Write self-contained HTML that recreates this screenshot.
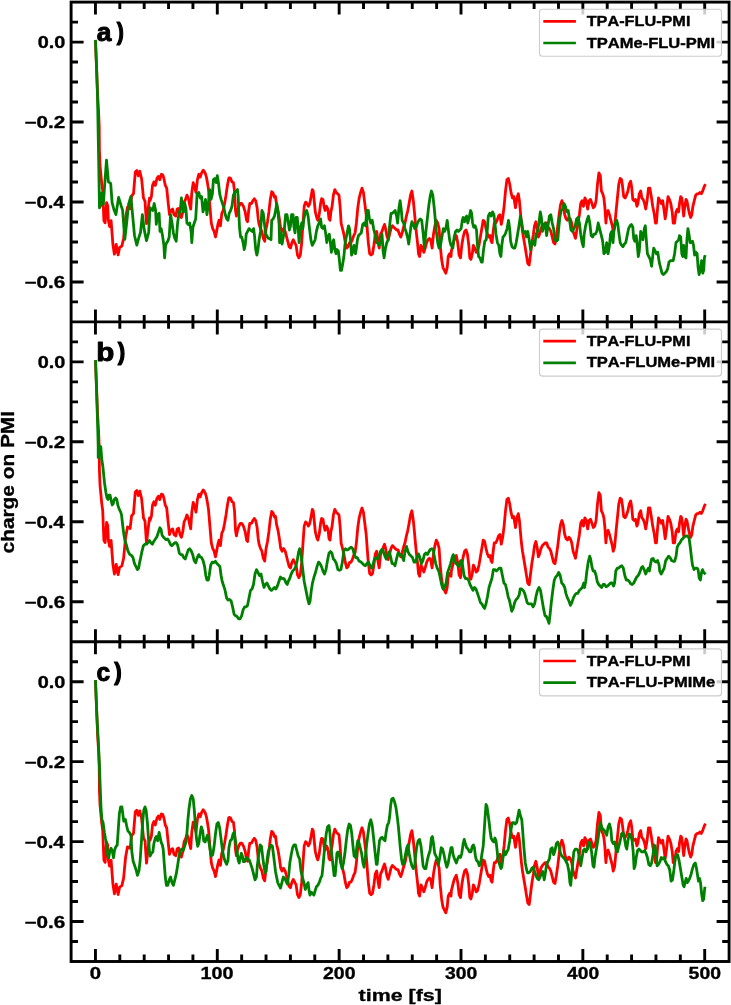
<!DOCTYPE html>
<html><head><meta charset="utf-8"><style>
html,body{margin:0;padding:0;background:#fff;}
svg{display:block;}
text{font-family:"Liberation Sans",sans-serif;font-weight:bold;fill:#000;stroke:#000;stroke-width:0.35px;stroke-linejoin:round;font-kerning:none;-webkit-font-smoothing:antialiased;}
svg{will-change:transform;}
.tl{font-size:16.5px;}
.lg{font-size:14px;}
.pl{font-size:25px;}
.al{font-size:16.5px;}
</style></head><body>
<svg width="731" height="1005" viewBox="0 0 731 1005">
<rect width="731" height="1005" fill="#fff"/>
<clipPath id="c0"><rect x="71.1" y="2.1" width="658.0" height="319.8"/></clipPath>
<g clip-path="url(#c0)">
<polyline points="95.5,41.9 96.6,69.0 97.6,95.0 98.6,112.0 99.2,127.0 99.4,150.0 100.0,165.0 101.7,183.3 102.7,190.7 103.9,220.6 105.1,222.8 106.6,202.7 107.7,205.7 108.4,220.6 109.6,226.6 111.1,220.6 112.9,244.5 114.4,254.2 116.2,244.5 118.1,254.9 119.6,247.5 121.9,246.0 123.6,238.5 125.6,217.6 127.5,207.2 130.1,208.7 131.6,196.0 133.5,193.7 135.3,172.1 136.8,170.6 138.3,175.8 139.8,171.3 141.6,178.8 143.5,198.2 145.0,201.2 146.5,223.6 148.0,210.1 149.5,198.2 150.0,200.7 151.4,196.6 152.5,185.4 153.9,181.9 155.3,185.4 157.0,178.4 158.4,176.4 159.8,179.8 161.4,174.3 162.8,175.0 163.9,178.4 165.3,185.4 166.7,188.2 167.4,195.2 168.4,204.9 169.5,214.7 170.9,210.5 172.6,209.1 174.0,214.7 175.8,216.1 177.2,209.1 178.6,208.4 180.0,214.7 181.4,217.5 182.8,211.9 184.1,202.1 185.5,199.4 186.9,195.2 188.3,198.0 189.7,204.9 190.7,209.1 191.8,192.4 193.2,182.6 194.6,186.8 196.0,192.4 197.4,179.8 198.8,174.3 200.2,177.1 201.6,172.9 203.2,170.1 205.1,172.9 206.4,177.1 207.4,182.6 208.5,189.6 209.9,206.3 211.3,223.0 212.7,228.6 214.1,231.4 215.5,237.0 216.6,231.4 217.9,224.4 219.0,220.3 220.4,225.8 221.8,213.3 223.2,210.5 224.6,203.5 226.0,195.2 227.4,185.4 228.7,178.4 229.2,177.8 230.6,178.4 232.0,181.9 233.4,182.6 234.5,191.0 235.5,210.5 236.4,216.1 237.5,210.5 238.9,206.3 240.3,203.5 241.7,203.5 243.4,206.3 245.2,211.9 246.6,220.3 247.6,221.7 248.7,210.5 249.8,203.5 251.5,203.5 252.9,200.7 254.3,198.7 255.7,200.7 257.1,207.7 258.2,218.9 259.1,224.4 260.5,228.6 261.9,231.4 263.3,238.4 264.7,241.2 266.1,228.6 267.5,221.7 268.9,211.9 270.3,199.4 271.7,191.7 273.1,193.1 274.5,197.3 275.5,196.6 276.6,204.9 278.0,210.5 279.4,218.9 280.7,228.6 282.1,231.4 283.5,228.6 285.2,231.4 286.3,235.6 287.7,241.2 289.1,246.7 290.5,248.1 291.9,242.6 293.3,239.8 294.7,242.6 296.1,245.3 297.5,255.1 298.9,257.9 300.3,255.1 301.7,242.6 303.0,223.0 304.2,206.3 305.6,202.1 307.0,203.5 308.4,206.3 309.8,203.5 311.1,196.6 312.3,189.6 313.2,191.0 314.2,200.7 315.3,211.9 316.7,217.5 317.8,220.3 319.2,214.7 320.6,203.5 321.6,198.7 323.0,199.4 324.0,206.3 325.1,210.5 326.5,206.3 327.9,209.1 329.0,218.9 330.0,220.3 330.9,211.9 332.1,206.3 333.4,195.2 334.8,189.6 336.2,192.4 337.6,193.8 339.0,195.2 340.1,206.3 341.1,223.0 342.5,228.6 343.9,234.2 345.3,242.6 346.7,248.1 348.1,246.7 349.5,242.6 350.9,242.6 352.3,239.8 353.7,235.6 355.1,232.8 356.4,223.0 357.8,207.7 359.2,198.0 360.6,192.4 362.0,188.2 363.4,192.4 364.8,203.5 366.2,214.7 367.2,228.6 368.3,242.6 369.7,253.7 371.1,255.1 372.5,253.7 373.9,245.3 375.3,234.2 376.7,231.4 377.1,234.2 378.1,242.6 379.2,248.1 380.6,234.2 382.0,231.4 383.4,227.2 384.5,224.4 385.6,228.6 386.8,235.6 388.2,239.8 389.6,234.2 391.0,228.6 392.4,225.8 393.8,227.2 395.2,228.6 396.6,230.0 398.0,230.0 399.4,234.2 400.8,237.0 402.2,232.8 403.6,227.2 405.0,223.0 406.4,216.1 407.8,210.5 409.1,203.5 410.5,195.2 411.9,191.0 413.3,200.7 414.4,211.9 415.4,223.0 416.5,234.2 417.5,242.6 418.5,253.7 419.6,256.5 421.0,245.3 422.4,248.1 423.8,252.3 425.2,248.1 426.6,242.6 428.0,239.8 429.4,238.4 430.7,239.8 432.1,248.1 433.5,234.2 434.9,225.8 436.3,220.3 437.7,223.0 439.1,228.6 440.2,245.3 441.6,259.3 443.0,267.6 444.4,270.4 445.8,273.2 447.2,267.6 448.2,256.5 449.6,253.7 451.0,256.5 451.4,250.9 452.8,245.3 454.2,239.8 456.3,235.6 457.7,242.6 459.1,255.1 460.5,257.9 461.8,245.3 463.2,237.0 464.6,231.4 466.0,230.0 467.4,234.2 468.8,245.3 469.8,257.9 470.9,259.3 472.3,253.7 473.4,245.3 474.8,248.1 476.2,252.3 477.6,250.9 479.0,245.3 480.4,237.0 481.8,228.6 483.2,220.3 484.6,221.7 486.0,228.6 487.4,234.2 488.7,237.0 490.1,235.6 491.1,241.2 492.1,242.6 493.2,231.4 494.3,223.0 495.7,223.0 497.1,220.3 498.5,216.1 499.9,214.7 501.3,224.4 502.7,217.5 504.1,206.3 505.5,191.0 506.9,179.8 508.3,178.4 509.7,184.0 511.0,192.4 512.4,198.0 513.8,196.6 514.8,203.5 515.5,207.7 516.9,198.0 518.3,193.8 519.4,200.7 520.4,211.9 521.4,223.0 522.5,231.4 523.9,239.8 525.3,248.1 526.4,255.1 527.8,263.5 529.2,264.9 530.6,253.7 532.0,242.6 533.4,234.2 534.5,225.8 535.9,221.7 537.3,228.6 538.4,237.0 539.6,234.2 541.0,228.6 542.4,225.8 543.8,224.4 545.2,223.0 546.6,223.0 548.0,227.2 549.4,228.6 550.8,231.4 552.2,237.0 553.6,242.6 555.0,244.0 556.4,235.6 557.8,225.8 559.1,214.7 560.5,204.9 561.9,200.7 563.3,204.9 564.7,214.7 566.1,218.9 567.5,220.3 568.9,217.5 570.3,218.9 571.7,223.0 573.1,231.4 574.5,235.6 575.5,238.4 576.6,231.4 578.0,223.0 579.4,214.7 580.7,203.5 582.1,200.7 583.5,206.3 584.9,198.0 586.3,200.7 587.7,209.1 589.1,200.7 590.5,199.4 591.9,203.5 593.3,207.7 594.7,206.3 596.1,200.7 597.5,184.0 598.9,172.9 600.3,175.7 601.4,191.0 602.8,193.8 603.9,198.0 604.9,207.7 605.9,223.0 607.0,211.9 608.1,210.5 609.5,214.7 610.9,220.3 612.3,225.8 613.2,231.4 614.6,227.2 616.0,211.9 617.4,198.0 618.8,184.0 620.2,178.4 621.6,179.8 622.6,186.8 623.7,196.6 625.1,198.0 626.5,195.2 627.9,191.0 629.3,184.0 630.7,181.2 631.8,188.2 632.8,199.4 634.1,200.7 635.5,199.4 636.9,206.3 637.9,203.5 639.3,193.8 640.7,191.0 641.8,198.0 643.2,199.4 644.6,203.5 645.7,209.1 647.1,200.7 648.5,188.2 649.9,188.2 651.3,196.6 652.7,206.3 654.1,213.3 655.5,223.0 656.4,223.0 657.4,210.5 658.5,198.0 659.9,200.7 661.3,203.5 662.7,200.7 664.1,210.5 665.2,218.9 666.6,209.1 668.0,196.6 669.4,199.4 670.8,203.5 672.2,211.9 673.2,223.0 674.6,223.0 676.0,211.9 677.4,209.1 678.6,211.9 679.5,203.5 680.7,196.6 681.8,198.0 682.8,207.7 683.7,216.1 684.8,206.3 686.0,199.4 686.9,200.7 687.9,206.3 689.3,213.3 690.7,217.5 691.8,214.7 692.9,206.3 694.3,200.7 695.7,195.2 697.1,193.8 698.5,193.8 699.9,192.4 701.3,193.8 702.7,191.0 704.1,186.8 704.8,185.4" fill="none" stroke="#ff0000" stroke-width="2.8" stroke-linejoin="round" stroke-linecap="square"/>
<polyline points="95.5,41.3 96.6,69.0 97.5,95.0 98.3,140.0 99.5,207.9 100.7,205.7 101.9,193.0 103.3,204.2 106.5,160.1 108.4,181.8 110.7,183.3 112.1,202.7 114.1,210.1 115.9,214.6 118.6,197.5 121.1,205.7 122.6,210.1 124.8,239.3 126.6,223.6 128.6,204.2 130.8,196.7 132.3,211.6 134.5,235.5 136.8,245.2 139.0,237.0 140.5,232.5 142.4,214.6 144.2,229.6 146.5,240.7 148.7,232.5 150.0,207.7 151.4,209.1 152.8,210.5 154.2,203.5 155.6,210.5 156.3,224.4 157.7,214.7 159.1,213.3 160.0,231.4 161.1,228.6 162.5,235.6 163.9,245.3 164.6,257.9 165.6,245.3 166.7,242.6 167.8,241.2 169.2,237.0 170.6,214.7 172.0,223.0 173.4,232.8 174.8,238.4 176.2,241.2 177.6,223.0 179.0,213.3 180.4,209.1 181.4,198.0 182.3,206.3 183.4,211.9 184.8,203.5 186.0,209.1 186.9,223.0 188.3,224.4 189.7,223.0 191.1,231.4 191.8,242.6 192.9,227.2 194.3,223.0 195.7,218.9 197.1,193.8 198.8,192.4 200.2,198.0 201.6,196.6 203.0,211.9 204.4,206.3 205.5,199.4 206.9,214.7 208.3,204.9 209.7,189.6 211.0,199.4 212.4,193.8 213.4,179.8 214.8,178.4 216.2,182.6 217.3,175.7 218.6,184.0 219.7,193.8 221.1,199.4 222.5,203.5 223.9,207.7 225.3,214.7 226.7,218.9 228.0,220.3 229.2,213.3 230.6,210.5 232.0,206.3 233.4,195.2 234.8,192.4 236.1,191.0 237.5,189.6 238.2,196.6 238.9,214.7 239.6,228.6 240.6,237.0 241.7,237.0 243.1,242.6 244.2,249.5 245.2,245.3 246.2,234.2 247.6,231.4 249.0,228.6 250.4,230.0 252.2,231.4 253.6,228.6 254.5,235.6 255.7,249.5 256.8,255.1 257.8,250.9 259.1,239.8 260.5,231.4 261.9,210.5 263.3,213.3 264.7,225.8 265.7,234.2 266.8,235.6 268.2,238.4 269.6,238.4 271.0,239.8 271.7,220.3 273.1,218.9 274.5,216.1 275.9,209.1 276.8,203.5 278.0,211.9 279.1,224.4 279.6,242.6 280.7,232.8 282.1,244.0 283.3,237.0 284.2,231.4 285.6,214.7 287.0,214.7 288.4,223.0 289.4,230.0 290.5,225.8 291.6,214.7 293.0,214.7 294.0,227.2 295.0,232.8 296.1,217.5 297.2,217.5 298.2,228.6 299.1,242.6 300.3,228.6 301.7,223.0 302.8,228.6 303.9,218.9 305.3,211.9 306.7,210.5 308.1,216.1 309.5,228.6 310.9,239.8 312.3,245.3 313.7,242.6 315.1,239.8 316.4,231.4 317.8,225.8 319.2,223.0 320.6,218.9 321.6,227.2 323.0,228.6 324.4,225.8 325.8,234.2 326.8,242.6 327.9,237.0 329.3,234.2 330.4,242.6 331.4,252.3 332.8,242.6 333.7,239.8 334.8,249.5 336.0,253.7 336.9,249.5 338.3,250.9 339.3,259.3 340.4,270.4 341.5,270.4 342.5,264.9 343.9,256.5 344.9,245.3 346.0,238.4 347.4,231.4 348.5,225.8 349.5,228.6 350.5,239.8 351.6,255.1 352.7,252.3 354.1,245.3 355.5,253.7 356.4,248.1 357.4,239.8 358.5,235.6 359.9,234.2 361.3,232.8 362.7,224.4 364.1,223.0 365.5,225.8 366.9,210.5 368.3,210.5 369.4,218.9 370.8,223.0 372.2,220.3 373.6,228.6 375.0,234.2 376.4,242.6 377.8,242.6 379.2,245.3 380.6,242.6 382.0,234.2 383.1,250.9 384.1,257.9 385.5,248.1 386.8,242.6 388.2,239.8 389.6,225.8 391.0,213.3 392.4,213.3 393.8,211.9 395.2,210.5 396.6,216.1 397.6,223.0 399.0,207.7 400.1,200.7 401.2,209.1 402.2,220.3 403.6,223.0 405.0,228.6 406.4,232.8 407.8,238.4 408.7,244.0 409.8,235.6 411.0,225.8 411.9,221.7 413.3,224.4 414.7,228.6 416.1,227.2 417.5,223.0 418.9,220.3 420.3,218.9 421.7,220.3 423.1,232.8 424.5,248.1 425.9,231.4 427.3,218.9 428.7,206.3 430.1,196.6 431.4,191.0 432.8,195.2 434.2,207.7 435.2,218.9 436.3,231.4 437.7,242.6 439.1,248.1 440.5,245.3 441.9,237.0 443.3,228.6 444.7,231.4 446.1,227.2 447.2,220.3 448.2,228.6 449.6,239.8 451.0,245.3 451.4,245.3 452.8,248.1 454.2,237.0 455.6,231.4 457.0,230.0 458.4,231.4 459.8,230.0 461.1,228.6 462.3,220.3 463.2,217.5 464.6,221.7 465.6,217.5 466.7,216.1 467.8,223.0 469.2,217.5 470.6,210.5 471.6,213.3 472.6,223.0 473.7,227.2 475.1,225.8 476.5,230.0 477.6,246.7 478.6,256.5 480.0,257.9 481.4,262.1 482.3,262.1 483.4,250.9 484.8,241.2 486.2,239.8 487.4,228.6 488.3,216.1 489.7,213.3 491.1,216.1 492.5,211.9 493.9,214.7 494.9,223.0 496.0,234.2 497.4,242.6 498.8,245.3 499.9,253.7 500.9,256.5 501.8,245.3 503.0,237.0 504.4,235.6 505.7,232.8 507.1,228.6 508.5,220.3 509.7,228.6 510.6,241.2 512.0,246.7 513.4,248.1 514.8,248.1 516.2,242.6 517.6,234.2 519.0,225.8 520.4,216.1 521.8,223.0 522.8,230.0 523.9,232.8 525.3,231.4 526.4,237.0 527.8,231.4 529.2,239.8 530.6,249.5 532.0,242.6 533.4,241.2 534.8,245.3 536.1,234.2 537.5,231.4 538.9,223.0 540.3,211.9 541.4,217.5 542.4,231.4 543.8,225.8 545.2,223.0 546.6,235.6 548.0,225.8 549.4,216.1 550.8,214.7 552.2,223.0 553.6,228.6 555.0,239.8 556.4,241.2 557.8,239.8 558.7,228.6 559.8,217.5 561.2,210.5 562.6,209.1 564.0,203.5 565.4,206.3 566.8,211.9 568.2,210.5 569.6,220.3 571.0,230.0 572.4,231.4 573.8,228.6 575.2,225.8 576.6,218.9 578.0,217.5 579.4,223.0 580.7,234.2 582.1,242.6 583.3,246.7 584.2,234.2 585.6,225.8 587.0,220.3 588.4,216.1 589.8,223.0 591.2,235.6 592.6,237.0 594.0,234.2 595.4,234.2 596.8,231.4 598.2,223.0 599.6,228.6 601.0,234.2 602.4,239.8 602.8,242.6 603.9,253.7 605.3,252.3 606.7,242.6 608.1,253.7 609.5,245.3 610.5,234.2 611.8,231.4 613.0,242.6 613.9,231.4 615.3,223.0 616.7,220.3 617.8,224.4 619.2,235.6 620.2,242.6 621.6,245.3 623.0,246.7 624.4,244.0 625.8,242.6 627.2,235.6 628.6,228.6 630.0,225.8 631.4,224.4 632.8,227.2 633.7,238.4 634.8,241.2 636.2,235.6 637.4,246.7 638.3,256.5 639.3,250.9 640.7,231.4 641.8,234.2 642.9,239.8 644.3,228.6 645.3,225.8 646.3,239.8 647.4,253.7 648.8,256.5 650.2,259.3 651.6,266.3 652.7,256.5 653.7,248.1 655.1,250.9 656.4,253.7 657.8,252.3 659.2,262.1 660.6,267.6 662.0,273.2 663.4,274.6 664.8,273.2 666.2,271.8 667.6,269.0 669.0,262.1 670.4,260.7 671.8,260.7 673.2,260.7 674.6,253.7 676.0,242.6 677.4,241.2 678.6,239.8 679.5,235.6 680.7,237.0 681.8,253.7 682.8,256.5 683.7,245.3 684.8,256.5 686.0,257.9 686.9,239.8 687.9,228.6 689.0,234.2 690.1,242.6 691.1,242.6 692.5,241.2 693.5,245.3 694.6,255.1 696.0,252.3 697.1,253.7 698.1,267.6 699.1,274.6 700.2,270.4 701.6,260.7 702.7,273.2 703.7,270.4 704.4,257.9 704.8,256.5" fill="none" stroke="#008000" stroke-width="2.8" stroke-linejoin="round" stroke-linecap="square"/>
</g>
<clipPath id="c1"><rect x="71.1" y="321.9" width="658.0" height="319.8"/></clipPath>
<g clip-path="url(#c1)">
<polyline points="95.5,361.7 96.6,388.8 97.6,414.8 98.6,431.8 99.2,446.8 99.4,469.8 100.0,484.8 101.7,503.1 102.7,510.5 103.9,540.4 105.1,542.6 106.6,522.5 107.7,525.5 108.4,540.4 109.6,546.4 111.1,540.4 112.9,564.3 114.4,574.0 116.2,564.3 118.1,574.7 119.6,567.3 121.9,565.8 123.6,558.3 125.6,537.4 127.5,527.0 130.1,528.5 131.6,515.8 133.5,513.5 135.3,491.9 136.8,490.4 138.3,495.6 139.8,491.1 141.6,498.6 143.5,518.0 145.0,521.0 146.5,543.4 148.0,529.9 149.5,518.0 150.0,520.5 151.4,516.4 152.5,505.2 153.9,501.7 155.3,505.2 157.0,498.2 158.4,496.2 159.8,499.6 161.4,494.1 162.8,494.8 163.9,498.2 165.3,505.2 166.7,508.0 167.4,515.0 168.4,524.7 169.5,534.5 170.9,530.3 172.6,528.9 174.0,534.5 175.8,535.9 177.2,528.9 178.6,528.2 180.0,534.5 181.4,537.3 182.8,531.7 184.1,521.9 185.5,519.2 186.9,515.0 188.3,517.8 189.7,524.7 190.7,528.9 191.8,512.2 193.2,502.4 194.6,506.6 196.0,512.2 197.4,499.6 198.8,494.1 200.2,496.9 201.6,492.7 203.2,489.9 205.1,492.7 206.4,496.9 207.4,502.4 208.5,509.4 209.9,526.1 211.3,542.8 212.7,548.4 214.1,551.2 215.5,556.8 216.6,551.2 217.9,544.2 219.0,540.1 220.4,545.6 221.8,533.1 223.2,530.3 224.6,523.3 226.0,515.0 227.4,505.2 228.7,498.2 229.2,497.6 230.6,498.2 232.0,501.7 233.4,502.4 234.5,510.8 235.5,530.3 236.4,535.9 237.5,530.3 238.9,526.1 240.3,523.3 241.7,523.3 243.4,526.1 245.2,531.7 246.6,540.1 247.6,541.5 248.7,530.3 249.8,523.3 251.5,523.3 252.9,520.5 254.3,518.5 255.7,520.5 257.1,527.5 258.2,538.7 259.1,544.2 260.5,548.4 261.9,551.2 263.3,558.2 264.7,561.0 266.1,548.4 267.5,541.5 268.9,531.7 270.3,519.2 271.7,511.5 273.1,512.9 274.5,517.1 275.5,516.4 276.6,524.7 278.0,530.3 279.4,538.7 280.7,548.4 282.1,551.2 283.5,548.4 285.2,551.2 286.3,555.4 287.7,561.0 289.1,566.5 290.5,567.9 291.9,562.4 293.3,559.6 294.7,562.4 296.1,565.1 297.5,574.9 298.9,577.7 300.3,574.9 301.7,562.4 303.0,542.8 304.2,526.1 305.6,521.9 307.0,523.3 308.4,526.1 309.8,523.3 311.1,516.4 312.3,509.4 313.2,510.8 314.2,520.5 315.3,531.7 316.7,537.3 317.8,540.1 319.2,534.5 320.6,523.3 321.6,518.5 323.0,519.2 324.0,526.1 325.1,530.3 326.5,526.1 327.9,528.9 329.0,538.7 330.0,540.1 330.9,531.7 332.1,526.1 333.4,515.0 334.8,509.4 336.2,512.2 337.6,513.6 339.0,515.0 340.1,526.1 341.1,542.8 342.5,548.4 343.9,554.0 345.3,562.4 346.7,567.9 348.1,566.5 349.5,562.4 350.9,562.4 352.3,559.6 353.7,555.4 355.1,552.6 356.4,542.8 357.8,527.5 359.2,517.8 360.6,512.2 362.0,508.0 363.4,512.2 364.8,523.3 366.2,534.5 367.2,548.4 368.3,562.4 369.7,573.5 371.1,574.9 372.5,573.5 373.9,565.1 375.3,554.0 376.7,551.2 377.1,554.0 378.1,562.4 379.2,567.9 380.6,554.0 382.0,551.2 383.4,547.0 384.5,544.2 385.6,548.4 386.8,555.4 388.2,559.6 389.6,554.0 391.0,548.4 392.4,545.6 393.8,547.0 395.2,548.4 396.6,549.8 398.0,549.8 399.4,554.0 400.8,556.8 402.2,552.6 403.6,547.0 405.0,542.8 406.4,535.9 407.8,530.3 409.1,523.3 410.5,515.0 411.9,510.8 413.3,520.5 414.4,531.7 415.4,542.8 416.5,554.0 417.5,562.4 418.5,573.5 419.6,576.3 421.0,565.1 422.4,567.9 423.8,572.1 425.2,567.9 426.6,562.4 428.0,559.6 429.4,558.2 430.7,559.6 432.1,567.9 433.5,554.0 434.9,545.6 436.3,540.1 437.7,542.8 439.1,548.4 440.2,565.1 441.6,579.1 443.0,587.4 444.4,590.2 445.8,593.0 447.2,587.4 448.2,576.3 449.6,573.5 451.0,576.3 451.4,570.7 452.8,565.1 454.2,559.6 456.3,555.4 457.7,562.4 459.1,574.9 460.5,577.7 461.8,565.1 463.2,556.8 464.6,551.2 466.0,549.8 467.4,554.0 468.8,565.1 469.8,577.7 470.9,579.1 472.3,573.5 473.4,565.1 474.8,567.9 476.2,572.1 477.6,570.7 479.0,565.1 480.4,556.8 481.8,548.4 483.2,540.1 484.6,541.5 486.0,548.4 487.4,554.0 488.7,556.8 490.1,555.4 491.1,561.0 492.1,562.4 493.2,551.2 494.3,542.8 495.7,542.8 497.1,540.1 498.5,535.9 499.9,534.5 501.3,544.2 502.7,537.3 504.1,526.1 505.5,510.8 506.9,499.6 508.3,498.2 509.7,503.8 511.0,512.2 512.4,517.8 513.8,516.4 514.8,523.3 515.5,527.5 516.9,517.8 518.3,513.6 519.4,520.5 520.4,531.7 521.4,542.8 522.5,551.2 523.9,559.6 525.3,567.9 526.4,574.9 527.8,583.3 529.2,584.7 530.6,573.5 532.0,562.4 533.4,554.0 534.5,545.6 535.9,541.5 537.3,548.4 538.4,556.8 539.6,554.0 541.0,548.4 542.4,545.6 543.8,544.2 545.2,542.8 546.6,542.8 548.0,547.0 549.4,548.4 550.8,551.2 552.2,556.8 553.6,562.4 555.0,563.8 556.4,555.4 557.8,545.6 559.1,534.5 560.5,524.7 561.9,520.5 563.3,524.7 564.7,534.5 566.1,538.7 567.5,540.1 568.9,537.3 570.3,538.7 571.7,542.8 573.1,551.2 574.5,555.4 575.5,558.2 576.6,551.2 578.0,542.8 579.4,534.5 580.7,523.3 582.1,520.5 583.5,526.1 584.9,517.8 586.3,520.5 587.7,528.9 589.1,520.5 590.5,519.2 591.9,523.3 593.3,527.5 594.7,526.1 596.1,520.5 597.5,503.8 598.9,492.7 600.3,495.5 601.4,510.8 602.8,513.6 603.9,517.8 604.9,527.5 605.9,542.8 607.0,531.7 608.1,530.3 609.5,534.5 610.9,540.1 612.3,545.6 613.2,551.2 614.6,547.0 616.0,531.7 617.4,517.8 618.8,503.8 620.2,498.2 621.6,499.6 622.6,506.6 623.7,516.4 625.1,517.8 626.5,515.0 627.9,510.8 629.3,503.8 630.7,501.0 631.8,508.0 632.8,519.2 634.1,520.5 635.5,519.2 636.9,526.1 637.9,523.3 639.3,513.6 640.7,510.8 641.8,517.8 643.2,519.2 644.6,523.3 645.7,528.9 647.1,520.5 648.5,508.0 649.9,508.0 651.3,516.4 652.7,526.1 654.1,533.1 655.5,542.8 656.4,542.8 657.4,530.3 658.5,517.8 659.9,520.5 661.3,523.3 662.7,520.5 664.1,530.3 665.2,538.7 666.6,528.9 668.0,516.4 669.4,519.2 670.8,523.3 672.2,531.7 673.2,542.8 674.6,542.8 676.0,531.7 677.4,528.9 678.6,531.7 679.5,523.3 680.7,516.4 681.8,517.8 682.8,527.5 683.7,535.9 684.8,526.1 686.0,519.2 686.9,520.5 687.9,526.1 689.3,533.1 690.7,537.3 691.8,534.5 692.9,526.1 694.3,520.5 695.7,515.0 697.1,513.6 698.5,513.6 699.9,512.2 701.3,513.6 702.7,510.8 704.1,506.6 704.8,505.2" fill="none" stroke="#ff0000" stroke-width="2.8" stroke-linejoin="round" stroke-linecap="square"/>
<polyline points="95.6,361.5 97.5,420.0 98.2,446.0 98.2,457.5 100.8,446.5 101.7,458.8 102.9,467.0 104.5,482.7 105.9,492.4 107.0,498.0 108.0,499.4 109.0,495.2 110.1,495.2 111.2,500.8 112.2,505.0 113.2,503.6 114.3,499.4 115.7,498.0 116.8,499.4 117.8,505.0 119.2,509.1 120.6,511.9 121.5,514.7 122.6,524.5 123.8,534.2 125.1,541.2 126.5,545.3 127.9,550.9 129.3,553.7 130.0,554.6 131.5,555.4 133.0,557.6 134.5,563.6 136.0,566.6 137.5,569.6 138.7,568.1 139.7,562.1 140.7,557.6 141.9,551.6 143.4,545.7 144.9,544.2 146.4,544.2 147.9,542.7 149.4,540.4 150.9,542.7 152.4,544.2 153.9,541.2 155.4,539.0 156.9,536.7 158.4,532.2 159.9,527.8 161.0,529.3 162.1,535.2 163.1,536.7 164.6,538.2 166.1,539.7 167.6,539.0 169.1,541.2 170.3,544.2 171.8,545.7 173.3,544.2 174.8,542.7 176.3,542.7 177.8,545.7 179.3,553.1 180.7,554.6 182.2,554.6 183.7,557.6 185.2,559.1 186.7,554.6 188.2,550.1 189.7,548.7 191.2,550.9 192.7,554.6 194.2,560.6 195.7,562.8 197.2,557.6 198.7,554.6 200.1,556.9 201.6,557.6 203.1,560.6 204.6,566.6 205.8,575.5 206.9,580.0 208.4,580.0 209.2,575.5 210.7,565.1 212.2,562.1 213.7,562.8 215.4,561.3 216.9,563.6 218.4,565.1 219.9,566.6 221.1,575.5 222.2,581.5 223.7,586.0 225.1,590.4 226.6,597.9 228.1,600.1 229.6,599.4 231.1,600.9 232.6,606.9 234.1,614.3 235.6,615.8 237.1,616.6 238.6,618.8 240.1,618.8 241.6,615.8 243.1,609.9 244.6,606.9 246.0,606.9 247.5,605.4 249.0,597.9 250.5,590.4 252.0,589.0 253.5,584.5 255.0,574.0 256.5,569.6 258.0,572.5 259.5,575.5 261.0,574.0 262.5,581.5 264.0,587.5 265.4,584.5 266.9,583.0 268.4,586.0 269.9,589.0 271.4,590.4 272.9,589.0 274.4,587.5 275.9,589.0 277.4,586.0 278.9,581.5 280.4,577.0 281.9,578.5 283.4,578.5 284.5,579.3 286.0,583.0 287.2,584.5 288.2,581.5 289.7,578.5 291.2,574.0 292.7,571.0 294.2,569.6 295.7,566.6 297.2,560.6 298.7,551.6 299.7,548.7 300.9,553.1 302.1,563.6 303.1,572.5 304.2,581.5 305.4,587.5 306.6,593.4 307.8,599.4 309.0,603.9 310.1,600.9 311.3,590.4 312.5,583.0 314.0,577.0 315.5,572.5 317.0,566.6 318.5,562.1 320.0,563.6 321.5,566.6 323.0,571.0 324.5,574.0 326.0,569.6 327.5,560.6 329.0,553.1 330.4,551.6 331.9,553.1 333.4,559.1 334.9,560.6 336.4,563.6 337.9,569.6 339.4,570.3 340.9,569.6 342.4,562.1 343.9,550.1 345.4,548.7 346.9,550.1 348.4,549.4 349.9,547.9 351.3,547.2 352.8,548.7 354.3,554.6 355.8,557.6 357.3,557.6 358.8,560.6 359.5,561.3 361.0,562.1 362.5,563.6 364.0,565.1 365.4,565.8 366.9,563.6 368.4,562.1 369.9,565.1 371.4,568.1 372.9,565.1 374.4,559.1 375.9,557.6 377.4,559.1 378.9,556.1 380.4,551.6 381.9,549.4 383.4,551.6 384.9,556.1 386.3,559.1 387.8,554.6 389.3,551.6 390.8,557.6 392.0,563.6 393.5,563.6 395.0,565.8 396.5,559.1 398.0,553.1 399.5,553.9 401.0,554.6 402.5,557.6 403.7,560.6 405.0,551.6 406.5,546.4 408.0,551.6 409.5,554.6 411.0,556.1 412.5,557.6 414.0,562.1 415.4,562.1 416.9,557.6 418.4,553.9 419.9,557.6 421.4,563.6 422.9,560.6 424.4,554.6 425.9,553.1 427.4,554.6 428.9,551.6 430.4,549.4 431.9,548.7 433.4,550.1 434.2,556.1 435.7,563.6 437.2,568.1 438.7,571.0 440.1,577.0 441.6,584.5 443.1,589.0 444.6,587.5 446.1,583.0 447.6,572.5 449.1,568.1 450.6,563.6 452.1,557.6 453.3,554.6 454.6,560.6 456.1,563.6 457.6,565.1 459.1,566.6 460.6,560.6 461.6,560.6 462.8,566.6 464.0,575.5 465.5,578.5 467.0,578.5 468.5,580.0 470.0,584.5 471.5,587.5 473.0,590.4 474.5,587.5 476.0,589.0 477.5,593.4 479.0,597.9 480.4,602.4 481.9,603.9 483.4,606.9 484.6,608.4 486.0,603.9 487.5,596.4 489.0,587.5 490.4,583.0 491.9,578.5 493.4,569.6 494.9,569.6 496.4,571.0 497.9,569.6 499.4,568.1 500.9,568.1 502.4,575.5 503.9,583.0 505.4,584.5 506.9,590.4 508.4,597.9 509.2,599.4 510.2,603.9 511.7,611.3 513.2,608.4 514.7,602.4 516.2,599.4 517.7,597.9 519.2,594.9 520.2,589.0 521.7,589.0 523.2,590.4 524.7,593.4 525.9,597.9 527.1,602.4 528.6,603.9 530.1,603.9 531.6,603.9 533.1,606.9 534.6,603.9 536.0,596.4 537.5,590.4 539.0,587.5 540.5,590.4 542.0,599.4 543.5,608.4 545.0,615.8 546.5,616.6 548.0,620.3 549.0,623.3 550.1,614.3 551.3,602.4 552.8,590.4 554.3,580.0 555.7,577.0 557.2,575.5 558.7,572.5 560.2,575.5 561.7,583.0 563.2,584.5 564.7,587.5 565.9,593.4 567.4,597.9 568.9,600.9 570.4,605.4 571.9,602.4 573.4,597.9 574.9,594.9 576.3,593.4 577.8,593.4 579.3,590.4 580.8,589.0 582.3,587.5 583.8,583.0 584.5,587.5 585.7,581.5 586.7,572.5 588.2,562.1 589.7,556.1 590.7,559.1 591.9,566.6 593.1,571.0 594.6,571.0 596.1,575.5 597.2,581.5 598.7,584.5 600.1,586.0 601.6,587.5 603.1,584.5 604.6,584.5 606.1,586.7 607.6,586.0 609.1,584.5 610.6,583.0 612.1,583.0 613.6,586.0 614.6,583.0 615.8,571.0 617.3,568.1 618.8,568.1 620.3,566.6 621.8,565.8 623.3,568.1 624.8,575.5 626.3,580.0 627.8,580.0 629.3,581.5 630.7,583.7 632.2,584.5 633.7,583.0 635.2,580.0 636.7,577.0 638.2,575.5 639.7,572.5 641.2,568.1 642.7,566.6 644.2,569.6 645.7,574.0 646.9,571.0 648.4,568.1 649.4,571.0 650.4,565.1 651.6,559.1 653.1,558.4 654.6,561.3 656.1,562.1 657.6,560.6 659.1,565.1 659.7,571.0 661.2,574.0 662.7,571.0 664.2,568.1 665.7,560.6 667.2,558.4 668.7,556.1 670.1,557.6 671.6,560.6 673.1,561.3 674.6,561.3 676.1,556.1 677.2,547.2 678.7,544.2 680.1,542.7 681.6,539.7 683.1,538.2 684.6,536.7 686.1,536.0 687.6,536.0 689.1,538.2 690.3,547.2 691.5,557.6 692.5,565.1 694.0,569.6 695.5,568.1 697.0,568.1 698.1,569.6 699.3,578.5 700.4,580.0 701.5,572.5 702.5,569.6 703.7,572.5 704.6,573.3" fill="none" stroke="#008000" stroke-width="2.8" stroke-linejoin="round" stroke-linecap="square"/>
</g>
<clipPath id="c2"><rect x="71.1" y="641.7" width="658.0" height="319.8"/></clipPath>
<g clip-path="url(#c2)">
<polyline points="95.5,681.5 96.6,708.6 97.6,734.6 98.6,751.6 99.2,766.6 99.4,789.6 100.0,804.6 101.7,822.9 102.7,830.3 103.9,860.2 105.1,862.4 106.6,842.3 107.7,845.3 108.4,860.2 109.6,866.2 111.1,860.2 112.9,884.1 114.4,893.8 116.2,884.1 118.1,894.5 119.6,887.1 121.9,885.6 123.6,878.1 125.6,857.2 127.5,846.8 130.1,848.3 131.6,835.6 133.5,833.3 135.3,811.7 136.8,810.2 138.3,815.4 139.8,810.9 141.6,818.4 143.5,837.8 145.0,840.8 146.5,863.2 148.0,849.7 149.5,837.8 150.0,840.3 151.4,836.2 152.5,825.0 153.9,821.5 155.3,825.0 157.0,818.0 158.4,816.0 159.8,819.4 161.4,813.9 162.8,814.6 163.9,818.0 165.3,825.0 166.7,827.8 167.4,834.8 168.4,844.5 169.5,854.3 170.9,850.1 172.6,848.7 174.0,854.3 175.8,855.7 177.2,848.7 178.6,848.0 180.0,854.3 181.4,857.1 182.8,851.5 184.1,841.7 185.5,839.0 186.9,834.8 188.3,837.6 189.7,844.5 190.7,848.7 191.8,832.0 193.2,822.2 194.6,826.4 196.0,832.0 197.4,819.4 198.8,813.9 200.2,816.7 201.6,812.5 203.2,809.7 205.1,812.5 206.4,816.7 207.4,822.2 208.5,829.2 209.9,845.9 211.3,862.6 212.7,868.2 214.1,871.0 215.5,876.6 216.6,871.0 217.9,864.0 219.0,859.9 220.4,865.4 221.8,852.9 223.2,850.1 224.6,843.1 226.0,834.8 227.4,825.0 228.7,818.0 229.2,817.4 230.6,818.0 232.0,821.5 233.4,822.2 234.5,830.6 235.5,850.1 236.4,855.7 237.5,850.1 238.9,845.9 240.3,843.1 241.7,843.1 243.4,845.9 245.2,851.5 246.6,859.9 247.6,861.3 248.7,850.1 249.8,843.1 251.5,843.1 252.9,840.3 254.3,838.3 255.7,840.3 257.1,847.3 258.2,858.5 259.1,864.0 260.5,868.2 261.9,871.0 263.3,878.0 264.7,880.8 266.1,868.2 267.5,861.3 268.9,851.5 270.3,839.0 271.7,831.3 273.1,832.7 274.5,836.9 275.5,836.2 276.6,844.5 278.0,850.1 279.4,858.5 280.7,868.2 282.1,871.0 283.5,868.2 285.2,871.0 286.3,875.2 287.7,880.8 289.1,886.3 290.5,887.7 291.9,882.2 293.3,879.4 294.7,882.2 296.1,884.9 297.5,894.7 298.9,897.5 300.3,894.7 301.7,882.2 303.0,862.6 304.2,845.9 305.6,841.7 307.0,843.1 308.4,845.9 309.8,843.1 311.1,836.2 312.3,829.2 313.2,830.6 314.2,840.3 315.3,851.5 316.7,857.1 317.8,859.9 319.2,854.3 320.6,843.1 321.6,838.3 323.0,839.0 324.0,845.9 325.1,850.1 326.5,845.9 327.9,848.7 329.0,858.5 330.0,859.9 330.9,851.5 332.1,845.9 333.4,834.8 334.8,829.2 336.2,832.0 337.6,833.4 339.0,834.8 340.1,845.9 341.1,862.6 342.5,868.2 343.9,873.8 345.3,882.2 346.7,887.7 348.1,886.3 349.5,882.2 350.9,882.2 352.3,879.4 353.7,875.2 355.1,872.4 356.4,862.6 357.8,847.3 359.2,837.6 360.6,832.0 362.0,827.8 363.4,832.0 364.8,843.1 366.2,854.3 367.2,868.2 368.3,882.2 369.7,893.3 371.1,894.7 372.5,893.3 373.9,884.9 375.3,873.8 376.7,871.0 377.1,873.8 378.1,882.2 379.2,887.7 380.6,873.8 382.0,871.0 383.4,866.8 384.5,864.0 385.6,868.2 386.8,875.2 388.2,879.4 389.6,873.8 391.0,868.2 392.4,865.4 393.8,866.8 395.2,868.2 396.6,869.6 398.0,869.6 399.4,873.8 400.8,876.6 402.2,872.4 403.6,866.8 405.0,862.6 406.4,855.7 407.8,850.1 409.1,843.1 410.5,834.8 411.9,830.6 413.3,840.3 414.4,851.5 415.4,862.6 416.5,873.8 417.5,882.2 418.5,893.3 419.6,896.1 421.0,884.9 422.4,887.7 423.8,891.9 425.2,887.7 426.6,882.2 428.0,879.4 429.4,878.0 430.7,879.4 432.1,887.7 433.5,873.8 434.9,865.4 436.3,859.9 437.7,862.6 439.1,868.2 440.2,884.9 441.6,898.9 443.0,907.2 444.4,910.0 445.8,912.8 447.2,907.2 448.2,896.1 449.6,893.3 451.0,896.1 451.4,890.5 452.8,884.9 454.2,879.4 456.3,875.2 457.7,882.2 459.1,894.7 460.5,897.5 461.8,884.9 463.2,876.6 464.6,871.0 466.0,869.6 467.4,873.8 468.8,884.9 469.8,897.5 470.9,898.9 472.3,893.3 473.4,884.9 474.8,887.7 476.2,891.9 477.6,890.5 479.0,884.9 480.4,876.6 481.8,868.2 483.2,859.9 484.6,861.3 486.0,868.2 487.4,873.8 488.7,876.6 490.1,875.2 491.1,880.8 492.1,882.2 493.2,871.0 494.3,862.6 495.7,862.6 497.1,859.9 498.5,855.7 499.9,854.3 501.3,864.0 502.7,857.1 504.1,845.9 505.5,830.6 506.9,819.4 508.3,818.0 509.7,823.6 511.0,832.0 512.4,837.6 513.8,836.2 514.8,843.1 515.5,847.3 516.9,837.6 518.3,833.4 519.4,840.3 520.4,851.5 521.4,862.6 522.5,871.0 523.9,879.4 525.3,887.7 526.4,894.7 527.8,903.1 529.2,904.5 530.6,893.3 532.0,882.2 533.4,873.8 534.5,865.4 535.9,861.3 537.3,868.2 538.4,876.6 539.6,873.8 541.0,868.2 542.4,865.4 543.8,864.0 545.2,862.6 546.6,862.6 548.0,866.8 549.4,868.2 550.8,871.0 552.2,876.6 553.6,882.2 555.0,883.6 556.4,875.2 557.8,865.4 559.1,854.3 560.5,844.5 561.9,840.3 563.3,844.5 564.7,854.3 566.1,858.5 567.5,859.9 568.9,857.1 570.3,858.5 571.7,862.6 573.1,871.0 574.5,875.2 575.5,878.0 576.6,871.0 578.0,862.6 579.4,854.3 580.7,843.1 582.1,840.3 583.5,845.9 584.9,837.6 586.3,840.3 587.7,848.7 589.1,840.3 590.5,839.0 591.9,843.1 593.3,847.3 594.7,845.9 596.1,840.3 597.5,823.6 598.9,812.5 600.3,815.3 601.4,830.6 602.8,833.4 603.9,837.6 604.9,847.3 605.9,862.6 607.0,851.5 608.1,850.1 609.5,854.3 610.9,859.9 612.3,865.4 613.2,871.0 614.6,866.8 616.0,851.5 617.4,837.6 618.8,823.6 620.2,818.0 621.6,819.4 622.6,826.4 623.7,836.2 625.1,837.6 626.5,834.8 627.9,830.6 629.3,823.6 630.7,820.8 631.8,827.8 632.8,839.0 634.1,840.3 635.5,839.0 636.9,845.9 637.9,843.1 639.3,833.4 640.7,830.6 641.8,837.6 643.2,839.0 644.6,843.1 645.7,848.7 647.1,840.3 648.5,827.8 649.9,827.8 651.3,836.2 652.7,845.9 654.1,852.9 655.5,862.6 656.4,862.6 657.4,850.1 658.5,837.6 659.9,840.3 661.3,843.1 662.7,840.3 664.1,850.1 665.2,858.5 666.6,848.7 668.0,836.2 669.4,839.0 670.8,843.1 672.2,851.5 673.2,862.6 674.6,862.6 676.0,851.5 677.4,848.7 678.6,851.5 679.5,843.1 680.7,836.2 681.8,837.6 682.8,847.3 683.7,855.7 684.8,845.9 686.0,839.0 686.9,840.3 687.9,845.9 689.3,852.9 690.7,857.1 691.8,854.3 692.9,845.9 694.3,840.3 695.7,834.8 697.1,833.4 698.5,833.4 699.9,832.0 701.3,833.4 702.7,830.6 704.1,826.4 704.8,825.0" fill="none" stroke="#ff0000" stroke-width="2.8" stroke-linejoin="round" stroke-linecap="square"/>
<polyline points="95.5,681.5 96.8,714.8 98.5,745.0 99.4,764.4 100.1,783.8 101.1,809.7 101.9,819.6 101.9,819.6 103.1,822.8 104.4,832.4 105.5,838.7 106.6,843.5 107.6,854.6 108.7,857.8 109.8,851.5 111.1,848.3 112.4,851.5 113.5,857.8 114.6,849.9 115.9,846.7 117.2,845.1 118.3,829.2 119.4,813.2 120.7,806.9 121.9,806.9 123.1,816.4 123.8,821.2 125.4,819.6 126.7,826.0 127.8,830.8 129.4,832.4 131.0,835.5 131.8,851.5 133.1,861.0 134.7,865.8 136.3,870.6 137.5,875.4 139.0,870.6 140.1,861.0 141.4,841.9 142.6,822.8 143.8,810.1 145.0,806.9 146.1,810.1 147.4,822.8 148.5,838.7 149.6,853.1 150.0,856.1 151.4,853.3 152.8,851.9 153.9,843.5 155.3,838.0 156.3,836.6 157.7,840.7 159.1,832.4 160.0,836.6 161.1,842.1 162.3,844.9 163.2,849.1 164.2,863.0 165.3,877.0 166.4,885.3 167.8,885.3 169.2,879.8 170.6,877.0 172.0,882.6 173.4,885.3 174.8,879.8 176.2,874.2 177.6,865.8 179.0,856.1 180.4,850.5 181.8,849.1 183.2,850.5 184.6,846.3 186.0,842.1 186.9,833.8 187.9,819.8 189.0,808.7 190.4,798.9 191.8,795.5 193.2,798.9 194.3,810.1 195.3,824.0 196.4,838.0 197.7,846.3 198.8,843.5 199.9,835.2 201.3,826.8 202.7,831.0 203.7,840.7 205.1,842.1 206.4,838.0 207.4,835.2 208.3,839.4 209.2,843.5 210.2,850.5 211.3,856.1 212.7,854.7 214.1,846.3 215.5,833.8 216.9,824.0 218.3,822.6 219.7,828.2 221.1,839.4 222.5,850.5 223.9,857.5 225.3,861.7 226.7,864.4 228.0,860.3 228.9,847.7 230.3,840.7 231.7,839.4 233.1,833.8 234.1,832.4 235.0,838.0 236.1,844.9 237.3,853.3 238.2,860.3 239.2,863.0 240.3,857.5 241.4,853.3 242.4,856.1 243.4,861.7 244.5,861.7 245.6,858.9 246.6,857.5 248.0,858.9 249.4,860.3 250.8,864.4 252.2,868.6 253.6,874.2 255.0,879.8 256.4,877.0 257.3,865.8 258.7,854.7 260.1,844.9 261.5,846.3 262.6,856.1 263.7,864.4 265.1,872.8 266.1,871.4 267.1,860.3 268.2,851.9 269.6,847.7 271.0,844.9 272.4,846.3 273.5,854.7 274.5,863.0 275.5,871.4 276.6,877.0 277.7,882.6 279.1,885.3 280.5,888.1 281.9,882.6 283.3,877.0 284.7,878.4 286.0,881.2 287.4,884.0 288.8,874.2 289.8,863.0 291.2,854.7 292.6,847.7 294.0,844.9 295.4,844.9 296.8,850.5 298.2,856.1 299.6,858.9 301.0,871.4 302.4,877.0 303.9,882.6 305.3,889.5 306.7,885.3 308.1,882.6 309.1,890.9 310.0,895.1 311.4,892.3 312.8,893.7 313.9,895.1 315.1,890.9 316.4,886.7 317.8,885.3 319.2,882.6 320.6,878.4 322.0,875.6 323.0,865.8 324.0,854.7 325.1,843.5 326.2,833.8 327.6,826.8 329.0,825.4 330.0,833.8 330.9,846.3 332.1,857.5 333.2,867.2 334.1,875.6 335.1,875.6 336.0,865.8 336.9,853.3 337.9,851.9 339.3,854.7 340.7,863.0 342.1,868.6 343.5,863.0 344.9,853.3 346.3,840.7 347.7,829.6 349.1,824.0 350.5,825.4 351.8,833.8 353.0,846.3 354.1,856.1 355.5,857.5 356.9,846.3 357.8,840.7 358.8,842.1 360.2,847.7 361.6,853.3 363.0,863.0 364.1,867.2 365.2,858.9 366.6,844.9 368.0,833.8 369.4,824.0 370.8,819.8 372.2,825.4 373.6,838.0 375.0,851.9 376.4,864.4 377.1,864.4 378.1,854.7 379.5,840.7 380.9,838.0 382.2,837.3 383.6,839.4 385.0,840.7 386.1,832.4 387.3,825.4 388.7,822.6 389.6,817.1 390.6,805.9 391.7,798.9 393.1,798.2 394.5,801.7 395.9,807.3 397.3,817.1 398.4,826.8 399.4,838.0 400.4,849.1 401.5,858.9 402.6,864.4 404.0,863.0 405.4,854.7 406.8,847.7 407.9,844.9 409.1,853.3 410.5,860.3 411.9,865.8 413.3,868.6 414.7,865.8 415.7,854.7 416.8,846.3 418.2,840.7 419.6,839.4 421.0,846.3 422.1,856.1 423.1,865.8 424.5,868.6 425.9,868.6 427.3,860.3 428.7,854.7 430.1,850.5 431.4,838.0 432.4,836.6 433.5,843.5 434.7,853.3 436.0,856.1 437.4,858.9 438.4,864.4 439.8,857.5 441.2,847.7 442.6,849.1 444.0,854.7 445.4,861.7 446.8,867.2 448.2,863.0 449.6,854.7 451.0,847.7 452.1,847.7 453.1,854.7 454.5,858.9 456.3,863.0 457.7,858.9 459.1,856.1 460.5,857.5 461.8,853.3 463.2,843.5 464.2,839.4 465.3,843.5 466.7,847.7 468.1,849.1 469.5,851.9 470.9,851.9 472.3,846.3 473.4,844.9 474.4,847.7 475.4,856.1 476.5,860.3 477.9,861.7 479.3,865.8 480.7,863.0 481.8,854.7 483.2,846.3 484.1,832.4 485.1,817.1 486.0,804.5 486.9,805.9 487.9,812.9 489.0,821.2 490.1,831.0 491.1,838.0 492.5,840.7 493.9,842.1 494.9,838.0 496.0,840.7 497.1,850.5 498.1,860.3 499.5,864.4 500.9,868.6 501.8,867.2 503.0,857.5 504.1,850.5 505.5,854.7 506.9,851.9 508.3,849.1 509.7,840.7 511.0,829.6 512.4,822.6 513.8,822.6 515.2,824.0 516.6,822.6 518.0,815.7 519.1,810.1 520.4,815.7 521.8,819.8 522.8,832.4 523.9,847.7 525.3,863.0 526.7,870.0 527.5,872.8 528.9,872.8 530.3,871.4 531.7,868.6 533.1,867.2 534.5,871.4 535.9,875.6 537.3,878.4 538.7,879.8 540.1,877.0 541.4,874.2 542.8,871.4 544.2,879.8 545.6,871.4 546.6,864.4 548.0,861.7 549.4,858.9 550.8,849.1 552.2,847.7 553.6,854.7 555.0,850.5 556.4,843.5 557.8,842.1 559.1,846.3 560.5,853.3 561.9,856.1 563.3,857.5 564.7,858.9 566.1,861.7 567.5,864.4 568.9,871.4 569.9,882.6 570.7,885.3 571.7,874.2 572.7,863.0 573.8,851.9 575.2,849.1 576.6,849.1 578.0,850.5 579.4,857.5 580.7,865.8 582.1,857.5 583.3,850.5 584.7,849.1 586.0,851.9 587.4,849.1 588.8,842.1 590.2,843.5 591.6,851.9 593.0,865.8 594.0,867.2 595.0,857.5 596.4,849.1 597.8,840.7 599.1,831.0 600.3,822.6 601.7,826.8 603.0,829.6 603.9,829.6 605.3,832.4 606.7,835.2 608.1,826.8 609.5,824.0 610.9,829.6 611.8,840.7 613.2,843.5 614.6,842.1 616.0,849.1 617.4,851.9 618.8,846.3 620.2,840.7 621.6,833.8 623.0,832.4 624.4,838.0 625.8,846.3 626.8,849.1 627.9,840.7 629.3,833.8 630.7,835.2 632.1,840.7 633.2,851.9 634.1,868.6 635.1,865.8 636.2,857.5 637.6,850.5 639.0,849.1 640.4,850.5 641.8,851.9 643.2,851.9 644.6,850.5 646.0,853.3 647.4,857.5 648.8,864.4 650.2,865.8 651.6,863.0 653.0,854.7 654.1,844.9 655.1,846.3 656.0,854.7 657.1,865.8 658.5,864.4 659.9,861.7 661.3,857.5 662.7,858.9 664.1,857.5 665.5,861.7 666.9,864.4 668.3,865.8 669.7,870.0 671.1,881.2 672.5,879.8 673.9,870.0 675.3,857.5 676.7,854.7 677.6,854.7 679.0,860.3 680.4,868.6 681.8,877.0 683.2,885.3 684.1,886.7 685.1,882.6 686.2,878.4 687.4,882.6 688.3,881.2 689.7,878.4 691.1,874.2 692.5,868.6 693.9,864.4 695.3,863.0 696.3,867.2 697.4,874.2 698.5,881.2 699.5,878.4 700.5,882.6 701.6,893.7 702.7,900.7 703.7,899.3 704.4,890.9 704.8,888.1" fill="none" stroke="#008000" stroke-width="2.8" stroke-linejoin="round" stroke-linecap="square"/>
</g>
<path d="M95.45,2.10v12.5 M95.45,321.90v-12.5 M119.82,2.10v6.9 M119.82,321.90v-6.9 M144.19,2.10v6.9 M144.19,321.90v-6.9 M168.56,2.10v6.9 M168.56,321.90v-6.9 M192.93,2.10v6.9 M192.93,321.90v-6.9 M217.30,2.10v12.5 M217.30,321.90v-12.5 M241.67,2.10v6.9 M241.67,321.90v-6.9 M266.04,2.10v6.9 M266.04,321.90v-6.9 M290.41,2.10v6.9 M290.41,321.90v-6.9 M314.78,2.10v6.9 M314.78,321.90v-6.9 M339.15,2.10v12.5 M339.15,321.90v-12.5 M363.52,2.10v6.9 M363.52,321.90v-6.9 M387.89,2.10v6.9 M387.89,321.90v-6.9 M412.26,2.10v6.9 M412.26,321.90v-6.9 M436.63,2.10v6.9 M436.63,321.90v-6.9 M461.00,2.10v12.5 M461.00,321.90v-12.5 M485.37,2.10v6.9 M485.37,321.90v-6.9 M509.74,2.10v6.9 M509.74,321.90v-6.9 M534.11,2.10v6.9 M534.11,321.90v-6.9 M558.48,2.10v6.9 M558.48,321.90v-6.9 M582.85,2.10v12.5 M582.85,321.90v-12.5 M607.22,2.10v6.9 M607.22,321.90v-6.9 M631.59,2.10v6.9 M631.59,321.90v-6.9 M655.96,2.10v6.9 M655.96,321.90v-6.9 M680.33,2.10v6.9 M680.33,321.90v-6.9 M704.70,2.10v12.5 M704.70,321.90v-12.5 M71.10,301.91h6.9 M729.10,301.91h-6.9 M71.10,281.93h12.5 M729.10,281.93h-12.5 M71.10,261.94h6.9 M729.10,261.94h-6.9 M71.10,241.95h6.9 M729.10,241.95h-6.9 M71.10,221.96h6.9 M729.10,221.96h-6.9 M71.10,201.97h12.5 M729.10,201.97h-12.5 M71.10,181.99h6.9 M729.10,181.99h-6.9 M71.10,162.00h6.9 M729.10,162.00h-6.9 M71.10,142.01h6.9 M729.10,142.01h-6.9 M71.10,122.03h12.5 M729.10,122.03h-12.5 M71.10,102.04h6.9 M729.10,102.04h-6.9 M71.10,82.05h6.9 M729.10,82.05h-6.9 M71.10,62.06h6.9 M729.10,62.06h-6.9 M71.10,42.08h12.5 M729.10,42.08h-12.5 M71.10,22.09h6.9 M729.10,22.09h-6.9 M95.45,321.90v12.5 M95.45,641.70v-12.5 M119.82,321.90v6.9 M119.82,641.70v-6.9 M144.19,321.90v6.9 M144.19,641.70v-6.9 M168.56,321.90v6.9 M168.56,641.70v-6.9 M192.93,321.90v6.9 M192.93,641.70v-6.9 M217.30,321.90v12.5 M217.30,641.70v-12.5 M241.67,321.90v6.9 M241.67,641.70v-6.9 M266.04,321.90v6.9 M266.04,641.70v-6.9 M290.41,321.90v6.9 M290.41,641.70v-6.9 M314.78,321.90v6.9 M314.78,641.70v-6.9 M339.15,321.90v12.5 M339.15,641.70v-12.5 M363.52,321.90v6.9 M363.52,641.70v-6.9 M387.89,321.90v6.9 M387.89,641.70v-6.9 M412.26,321.90v6.9 M412.26,641.70v-6.9 M436.63,321.90v6.9 M436.63,641.70v-6.9 M461.00,321.90v12.5 M461.00,641.70v-12.5 M485.37,321.90v6.9 M485.37,641.70v-6.9 M509.74,321.90v6.9 M509.74,641.70v-6.9 M534.11,321.90v6.9 M534.11,641.70v-6.9 M558.48,321.90v6.9 M558.48,641.70v-6.9 M582.85,321.90v12.5 M582.85,641.70v-12.5 M607.22,321.90v6.9 M607.22,641.70v-6.9 M631.59,321.90v6.9 M631.59,641.70v-6.9 M655.96,321.90v6.9 M655.96,641.70v-6.9 M680.33,321.90v6.9 M680.33,641.70v-6.9 M704.70,321.90v12.5 M704.70,641.70v-12.5 M71.10,621.71h6.9 M729.10,621.71h-6.9 M71.10,601.73h12.5 M729.10,601.73h-12.5 M71.10,581.74h6.9 M729.10,581.74h-6.9 M71.10,561.75h6.9 M729.10,561.75h-6.9 M71.10,541.76h6.9 M729.10,541.76h-6.9 M71.10,521.77h12.5 M729.10,521.77h-12.5 M71.10,501.79h6.9 M729.10,501.79h-6.9 M71.10,481.80h6.9 M729.10,481.80h-6.9 M71.10,461.81h6.9 M729.10,461.81h-6.9 M71.10,441.82h12.5 M729.10,441.82h-12.5 M71.10,421.84h6.9 M729.10,421.84h-6.9 M71.10,401.85h6.9 M729.10,401.85h-6.9 M71.10,381.86h6.9 M729.10,381.86h-6.9 M71.10,361.88h12.5 M729.10,361.88h-12.5 M71.10,341.89h6.9 M729.10,341.89h-6.9 M95.45,641.70v12.5 M95.45,961.50v-12.5 M119.82,641.70v6.9 M119.82,961.50v-6.9 M144.19,641.70v6.9 M144.19,961.50v-6.9 M168.56,641.70v6.9 M168.56,961.50v-6.9 M192.93,641.70v6.9 M192.93,961.50v-6.9 M217.30,641.70v12.5 M217.30,961.50v-12.5 M241.67,641.70v6.9 M241.67,961.50v-6.9 M266.04,641.70v6.9 M266.04,961.50v-6.9 M290.41,641.70v6.9 M290.41,961.50v-6.9 M314.78,641.70v6.9 M314.78,961.50v-6.9 M339.15,641.70v12.5 M339.15,961.50v-12.5 M363.52,641.70v6.9 M363.52,961.50v-6.9 M387.89,641.70v6.9 M387.89,961.50v-6.9 M412.26,641.70v6.9 M412.26,961.50v-6.9 M436.63,641.70v6.9 M436.63,961.50v-6.9 M461.00,641.70v12.5 M461.00,961.50v-12.5 M485.37,641.70v6.9 M485.37,961.50v-6.9 M509.74,641.70v6.9 M509.74,961.50v-6.9 M534.11,641.70v6.9 M534.11,961.50v-6.9 M558.48,641.70v6.9 M558.48,961.50v-6.9 M582.85,641.70v12.5 M582.85,961.50v-12.5 M607.22,641.70v6.9 M607.22,961.50v-6.9 M631.59,641.70v6.9 M631.59,961.50v-6.9 M655.96,641.70v6.9 M655.96,961.50v-6.9 M680.33,641.70v6.9 M680.33,961.50v-6.9 M704.70,641.70v12.5 M704.70,961.50v-12.5 M71.10,941.51h6.9 M729.10,941.51h-6.9 M71.10,921.53h12.5 M729.10,921.53h-12.5 M71.10,901.54h6.9 M729.10,901.54h-6.9 M71.10,881.55h6.9 M729.10,881.55h-6.9 M71.10,861.56h6.9 M729.10,861.56h-6.9 M71.10,841.58h12.5 M729.10,841.58h-12.5 M71.10,821.59h6.9 M729.10,821.59h-6.9 M71.10,801.60h6.9 M729.10,801.60h-6.9 M71.10,781.61h6.9 M729.10,781.61h-6.9 M71.10,761.62h12.5 M729.10,761.62h-12.5 M71.10,741.64h6.9 M729.10,741.64h-6.9 M71.10,721.65h6.9 M729.10,721.65h-6.9 M71.10,701.66h6.9 M729.10,701.66h-6.9 M71.10,681.68h12.5 M729.10,681.68h-12.5 M71.10,661.69h6.9 M729.10,661.69h-6.9" stroke="#000" stroke-width="2.9" fill="none"/>
<rect x="539.5" y="9.3" width="182" height="47" rx="3" fill="#fff" fill-opacity="0.8" stroke="#ccc" stroke-width="1.1"/>
<path d="M543.3,21.4h32.6" stroke="#ff0000" stroke-width="2.7"/>
<path d="M543.3,43.0h32.6" stroke="#008000" stroke-width="2.7"/>
<text transform="translate(586.67,26.01) scale(1.1615,0.9930)" style="font-size:14px">TPA-FLU-PMI</text>
<text transform="translate(586.66,47.51) scale(1.1811,1.0135)" style="font-size:14px">TPAMe-FLU-PMI</text>
<text transform="translate(96.63,41.44) scale(0.9512,0.9455)" style="font-size:27.8px;stroke-width:1.0px">a</text>
<text transform="translate(116.68,39.97) scale(0.7647,0.8721)" style="font-size:27.8px;stroke-width:1.4px">)</text>
<text transform="translate(37.76,48.37) scale(1.1889,0.9726)" style="font-size:16.7px">0.0</text>
<text transform="translate(24.49,128.32) scale(1.2403,0.9726)" style="font-size:16.7px">−0.2</text>
<text transform="translate(24.51,208.27) scale(1.2180,0.9726)" style="font-size:16.7px">−0.4</text>
<text transform="translate(24.49,288.22) scale(1.2377,0.9726)" style="font-size:16.7px">−0.6</text>
<rect x="539.5" y="329.1" width="182" height="47" rx="3" fill="#fff" fill-opacity="0.8" stroke="#ccc" stroke-width="1.1"/>
<path d="M543.3,341.2h32.6" stroke="#ff0000" stroke-width="2.7"/>
<path d="M543.3,362.8h32.6" stroke="#008000" stroke-width="2.7"/>
<text transform="translate(586.67,345.81) scale(1.1615,0.9930)" style="font-size:14px">TPA-FLU-PMI</text>
<text transform="translate(586.66,367.31) scale(1.1811,1.0135)" style="font-size:14px">TPA-FLUMe-PMI</text>
<text transform="translate(96.25,361.15) scale(1.0636,0.9307)" style="font-size:27.8px;stroke-width:1.0px">b</text>
<text transform="translate(117.68,359.81) scale(0.8030,0.8644)" style="font-size:27.8px;stroke-width:1.4px">)</text>
<text transform="translate(37.76,368.17) scale(1.1889,0.9726)" style="font-size:16.7px">0.0</text>
<text transform="translate(24.49,448.12) scale(1.2403,0.9726)" style="font-size:16.7px">−0.2</text>
<text transform="translate(24.51,528.07) scale(1.2180,0.9726)" style="font-size:16.7px">−0.4</text>
<text transform="translate(24.49,608.02) scale(1.2377,0.9726)" style="font-size:16.7px">−0.6</text>
<rect x="539.5" y="648.9" width="182" height="47" rx="3" fill="#fff" fill-opacity="0.8" stroke="#ccc" stroke-width="1.1"/>
<path d="M543.3,661.0h32.6" stroke="#ff0000" stroke-width="2.7"/>
<path d="M543.3,682.6h32.6" stroke="#008000" stroke-width="2.7"/>
<text transform="translate(586.67,665.61) scale(1.1615,0.9930)" style="font-size:14px">TPA-FLU-PMI</text>
<text transform="translate(586.66,687.11) scale(1.1816,1.0135)" style="font-size:14px">TPA-FLU-PMIMe</text>
<text transform="translate(96.44,681.44) scale(0.8849,0.9455)" style="font-size:27.8px;stroke-width:1.0px">c</text>
<text transform="translate(114.28,679.75) scale(0.8030,0.8760)" style="font-size:27.8px;stroke-width:1.4px">)</text>
<text transform="translate(37.76,687.97) scale(1.1889,0.9726)" style="font-size:16.7px">0.0</text>
<text transform="translate(24.49,767.92) scale(1.2403,0.9726)" style="font-size:16.7px">−0.2</text>
<text transform="translate(24.51,847.87) scale(1.2180,0.9726)" style="font-size:16.7px">−0.4</text>
<text transform="translate(24.49,927.82) scale(1.2377,0.9726)" style="font-size:16.7px">−0.6</text>
<rect x="71.1" y="2.1" width="658.0" height="959.4" fill="none" stroke="#000" stroke-width="2.9"/>
<path d="M71.1,321.9H729.1" stroke="#000" stroke-width="2.9"/>
<path d="M71.1,641.7H729.1" stroke="#000" stroke-width="2.9"/>
<text transform="translate(89.79,979.24) scale(1.2213,0.9642)" style="font-size:16.7px">0</text>
<text transform="translate(200.55,979.24) scale(1.1865,0.9642)" style="font-size:16.7px">100</text>
<text transform="translate(322.98,979.24) scale(1.1654,0.9642)" style="font-size:16.7px">200</text>
<text transform="translate(445.06,979.22) scale(1.1569,0.9622)" style="font-size:16.7px">300</text>
<text transform="translate(567.06,979.24) scale(1.1513,0.9642)" style="font-size:16.7px">400</text>
<text transform="translate(688.60,979.24) scale(1.1626,0.9642)" style="font-size:16.7px">500</text>
<text transform="translate(358.59,1000.51) scale(1.1894,0.8940)" style="font-size:18px">time [fs]</text>
<text transform="translate(13.90,553.41) rotate(-90) scale(1.0917,1.0000)" style="font-size:19.1px">charge on PMI</text>
</svg>
</body></html>
